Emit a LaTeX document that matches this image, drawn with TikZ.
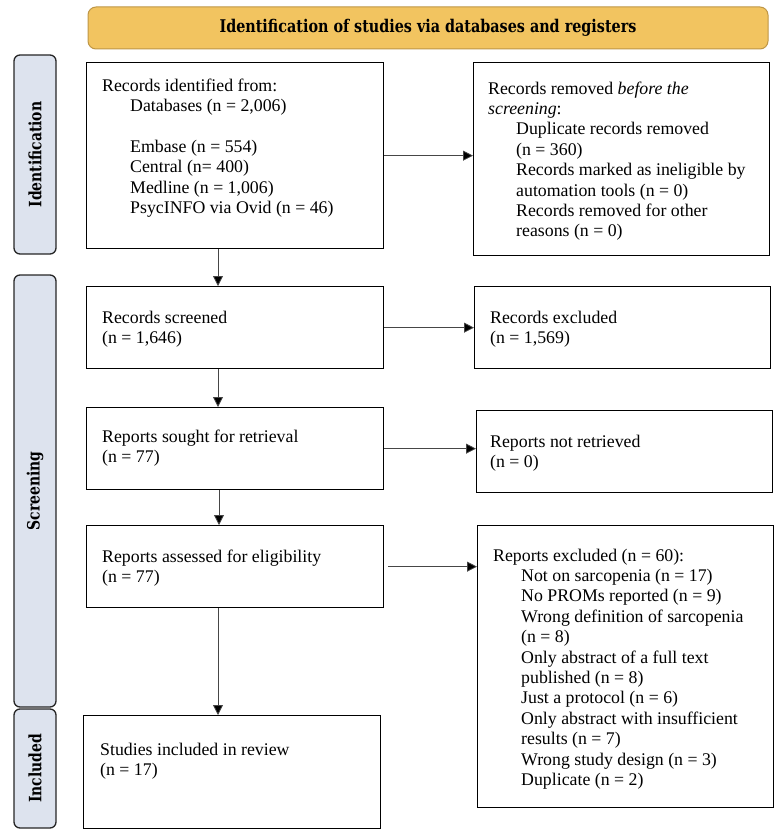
\documentclass[tikz,border=0pt]{standalone}
\usepackage{fontspec}
\setmainfont{Liberation Serif}
\newfontfamily\labfont[FakeStretch=0.82]{DejaVu Serif}
\usetikzlibrary{arrows.meta}
\newcommand{\myind}{\hspace*{28pt}}
\definecolor{bannerfill}{RGB}{242,196,96}
\definecolor{bannerline}{RGB}{190,150,70}
\definecolor{labfill}{RGB}{221,227,238}
\definecolor{arrline}{RGB}{70,70,70}
\tikzset{
  box/.style={draw=black, line width=1.3pt, fill=white, rectangle, anchor=north west, inner sep=0pt},
  txt/.style={anchor=north west, inner sep=0pt, align=left, font=\fontsize{17.8}{20.4}\selectfont},
  sidelab/.style={draw=black!85, line width=1.3pt, fill=labfill, rounded corners=6pt, rotate=90,
     minimum height=42pt, inner sep=0pt, font=\labfont\bfseries\fontsize{17}{19}\selectfont},
  banner/.style={draw=bannerline, line width=1pt, fill=bannerfill, rounded corners=8pt,
     minimum width=680pt, minimum height=42pt, inner sep=0pt, font=\labfont\bfseries\fontsize{17.5}{20}\selectfont},
  arr/.style={draw=arrline, line width=0.8pt, -{Triangle[length=10pt,width=10pt,fill=black]}}
}
\begin{document}
\begin{tikzpicture}[x=1pt,y=-1pt]
\useasboundingbox (0,0) rectangle (778,840);
% banner
\node[banner] (ban) at (428,28) {Identification of studies via databases and registers};
% side labels
\node[sidelab, minimum width=199pt] (lid) at (35,154.5) {Identification};
\node[sidelab, minimum width=432pt] (lsc) at (35,491) {Screening};
\node[sidelab, minimum width=119pt] (lin) at (35,768.5) {Included};
% boxes
\node[box, minimum width=297pt, minimum height=186pt] (A) at (86,62) {};
\node[box, minimum width=296pt, minimum height=193pt] (B) at (473,62) {};
\node[box, minimum width=297pt, minimum height=82pt] (C) at (86,286) {};
\node[box, minimum width=296pt, minimum height=82pt] (D) at (474,286) {};
\node[box, minimum width=297pt, minimum height=82pt] (E) at (86,407) {};
\node[box, minimum width=296pt, minimum height=82pt] (F) at (476,410) {};
\node[box, minimum width=297pt, minimum height=82pt] (G) at (86,525) {};
\node[box, minimum width=296pt, minimum height=282pt] (H) at (477,525) {};
\node[box, minimum width=297pt, minimum height=113pt] (I) at (83,715) {};
% texts
\node[txt] (tA) at (102,76.7) {\strut Records identified from:\\
\myind Databases (n = 2,006)\\
\strut\\
\myind Embase (n = 554)\\
\myind Central (n= 400)\\
\myind Medline (n = 1,006)\\
\myind PsycINFO via Ovid (n = 46)};
\node[txt] (tB) at (488,79.7) {\strut Records removed \textit{before the}\\
\textit{screening}:\\
\myind Duplicate records removed\\
\myind (n = 360)\\
\myind Records marked as ineligible by\\
\myind automation tools (n = 0)\\
\myind Records removed for other\\
\myind reasons (n = 0)};
\node[txt] (tC) at (102,308.7) {\strut Records screened\\(n = 1,646)};
\node[txt] (tD) at (490,308.7) {\strut Records excluded\\(n = 1,569)};
\node[txt] (tE) at (102,427.7) {\strut Reports sought for retrieval\\(n = 77)};
\node[txt] (tF) at (490,432.7) {\strut Reports not retrieved\\(n = 0)};
\node[txt] (tG) at (102,547.7) {\strut Reports assessed for eligibility\\(n = 77)};
\node[txt] (tH) at (493,546.7) {\strut Reports excluded (n = 60):\\
\myind Not on sarcopenia (n = 17)\\
\myind No PROMs reported (n = 9)\\
\myind Wrong definition of sarcopenia\\
\myind (n = 8)\\
\myind Only abstract of a full text\\
\myind published (n = 8)\\
\myind Just a protocol (n = 6)\\
\myind Only abstract with insufficient\\
\myind results (n = 7)\\
\myind Wrong study design (n = 3)\\
\myind Duplicate (n = 2)};
\node[txt] (tI) at (100,740.7) {\strut Studies included in review\\(n = 17)};
% horizontal arrows
\draw[arr] (A.east) -- (A.east -| B.west);
\draw[arr] (C.east) -- (C.east -| D.west);
\draw[arr] (E.east) -- (E.east -| F.west);
\draw[arr] ([xshift=4pt]G.east) -- (G.east -| H.west);
% vertical arrows
\draw[arr] ([xshift=132pt]A.south west) -- ([xshift=132pt]A.south west |- C.north);
\draw[arr] ([xshift=132pt]C.south west) -- ([xshift=132pt]C.south west |- E.north);
\draw[arr] ([xshift=133pt]E.south west) -- ([xshift=133pt]E.south west |- G.north);
\draw[arr] ([xshift=132pt]G.south west) -- ([xshift=132pt]G.south west |- I.north);
\end{tikzpicture}
\end{document}
